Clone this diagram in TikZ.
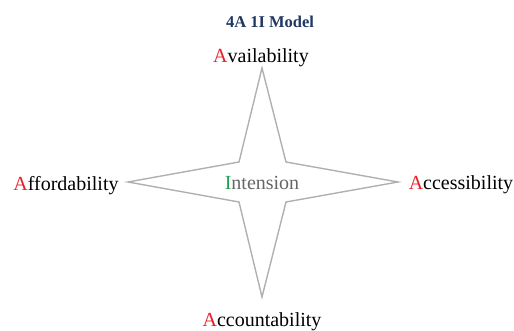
\documentclass[tikz,border=0pt]{standalone}
\usepackage{fontspec}
\setmainfont{Liberation Serif}
\usepackage{tikz}
\definecolor{titleblue}{HTML}{1F3864}
\definecolor{letterred}{HTML}{E8202A}
\definecolor{lettergreen}{HTML}{1BA352}
\definecolor{stargray}{HTML}{B0B0B0}

\begin{document}
\begin{tikzpicture}[x=1pt, y=-1pt, label/.style={font=\fontsize{20}{22}\selectfont, inner sep=0pt, anchor=base}]
      \useasboundingbox (0,0) rectangle (514,331);
      %%% star outline
      \coordinate (top) at (262,68);
      \coordinate (bot) at (262,297);
      \coordinate (lft) at (128,182);
      \coordinate (rgt) at (398,182);
      \draw[color=stargray, line width=1.4pt, line join=miter]
            (top) -- (286,162) -- (rgt) -- (286,202) -- (bot) -- (239,202) -- (lft) -- (239,162) -- cycle;

      \node[font=\fontsize{16.5}{18}\selectfont\bfseries, color=titleblue, inner sep=0pt, anchor=base] (title) at (270,28) {4A 1I Model};
      \node[label] (avail) at (261,63) {\textcolor{letterred}{A}vailability};
      \node[label] (afford) at (66,191) {\textcolor{letterred}{A}ffordability};
      \node[label] (access) at (461,190) {\textcolor{letterred}{A}ccessibility};
      \node[label] (account) at (262,326) {\textcolor{letterred}{A}ccountability};
      \node[label, color=black!60] (inten) at (262,190) {\textcolor{lettergreen}{I}ntension}; %% centre
\end{tikzpicture}
\end{document}
